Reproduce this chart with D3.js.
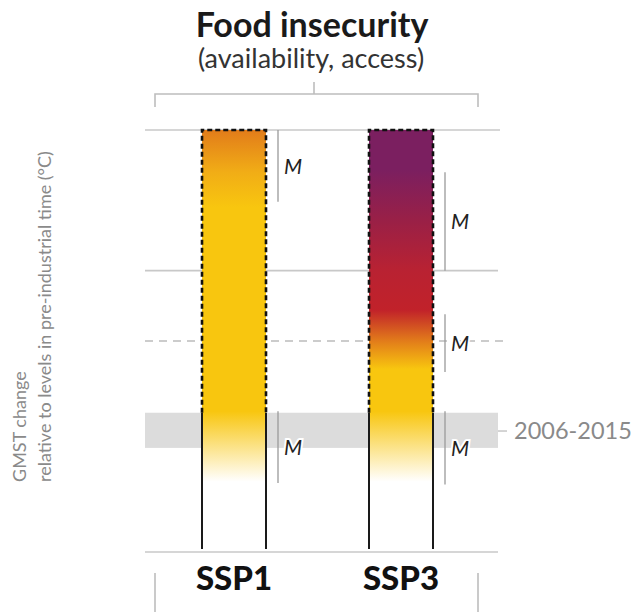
<!DOCTYPE html>
<html>
<head>
<meta charset="utf-8">
<script src="https://cdn.jsdelivr.net/npm/d3@7"></script>
<style>
  html, body { margin: 0; padding: 0; background: #fff; }
  svg { display: block; }
  text { font-family: Lato, "Open Sans", sans-serif; }
</style>
</head>
<body>
<svg id="chart" width="637" height="612"></svg>
<script>
// Scenarios and their burning-ember colour transitions (GMST, °C)
const scenarios = ["SSP1", "SSP3"];
const ssp1Temps  = [0.5, 1.0, 2.45, 2.7, 3.0];
const ssp1Colors = ["#ffffff", "#f8c60f", "#f8c60f", "#f1ad16", "#e27c1a"];
const ssp3Temps  = [0.5, 1.0, 1.3, 1.5, 1.72, 2.0, 2.35, 2.72, 3.0];
const ssp3Colors = ["#ffffff", "#f8c60f", "#f8c60f", "#e27c1a", "#c1222a", "#b92232", "#9a2046", "#7b1f60", "#7b1f60"];
// Confidence ranges of each transition (M = medium confidence)
const ssp1Conf = [[0.49, 1.0], [2.49, 3.0]];
const ssp3Conf = [[0.48, 1.0], [1.28, 1.69], [2.0, 2.7]];
const confLabels = ["M", "M", "M"];
// Reference levels
const solidLevels = [0, 2, 3];
const dashedLevel = 1.5;
const recentBand = [0.74, 0.99];
const recentLabel = "2006-2015";
const dashedFrom = 0.99; // ember outline becomes dashed above this level

const svg = d3.select("#chart");

const y = d3.scaleLinear().domain([0, 3]).range([552, 130]);
const x = d3.scalePoint().domain(scenarios).range([234, 401]);
const bw = 64;

const gridX0 = 145, gridX1 = 498;

// Recent-period band
svg.append("rect")
  .attr("x", gridX0).attr("width", gridX1 - gridX0)
  .attr("y", y(recentBand[1])).attr("height", y(recentBand[0]) - y(recentBand[1]))
  .attr("fill", "#dcdcdc");
svg.append("line")
  .attr("x1", gridX1).attr("x2", 507)
  .attr("y1", y(0.86)).attr("y2", y(0.86))
  .attr("stroke", "#b8b8b8").attr("stroke-width", 1.2);
svg.append("text")
  .attr("x", 514).attr("y", y(0.86) + 8)
  .attr("font-size", 23.5).attr("fill", "#8a8a8a")
  .text(recentLabel);

// Solid level lines
svg.selectAll("line.level").data(solidLevels).join("line")
  .attr("class", "level")
  .attr("x1", gridX0).attr("x2", d => d === 3 ? 500 : gridX1)
  .attr("y1", y).attr("y2", y)
  .attr("stroke", "#c8c8c8").attr("stroke-width", 1.6);

// 1.5 °C dashed level
svg.append("line")
  .attr("x1", gridX0).attr("x2", 506)
  .attr("y1", y(dashedLevel)).attr("y2", y(dashedLevel))
  .attr("stroke", "#9a9a9a").attr("stroke-width", 1.2)
  .attr("stroke-dasharray", "8,6");

// Ember gradients
const defs = svg.append("defs");
const emberTemps = [ssp1Temps, ssp3Temps];
const emberColors = [ssp1Colors, ssp3Colors];
scenarios.forEach((s, i) => {
  const g = defs.append("linearGradient")
    .attr("id", "ember-" + s)
    .attr("gradientUnits", "userSpaceOnUse")
    .attr("x1", 0).attr("x2", 0)
    .attr("y1", y(0)).attr("y2", y(3));
  emberTemps[i].forEach((t, j) => {
    g.append("stop").attr("offset", t / 3).attr("stop-color", emberColors[i][j]);
  });
});

// Embers
scenarios.forEach(s => {
  const x0 = x(s) - bw / 2, x1 = x(s) + bw / 2;
  svg.append("rect")
    .attr("x", x0).attr("width", bw)
    .attr("y", y(3)).attr("height", y(0) - y(3) - 3)
    .attr("fill", `url(#ember-${s})`);
  // solid sides below the recent period
  [x0, x1].forEach(xx => {
    svg.append("line")
      .attr("x1", xx).attr("x2", xx)
      .attr("y1", y(dashedFrom)).attr("y2", y(0) - 3)
      .attr("stroke", "#1a1a1a").attr("stroke-width", 2);
  });
  // dashed outline above
  svg.append("path")
    .attr("d", `M${x0},${y(dashedFrom)} L${x0},${y(3)} L${x1},${y(3)} L${x1},${y(dashedFrom)}`)
    .attr("fill", "none")
    .attr("stroke", "#111").attr("stroke-width", 2.6)
    .attr("stroke-dasharray", "5,3");
});

// Confidence brackets
const confSets = [ssp1Conf, ssp3Conf];
scenarios.forEach((s, i) => {
  const cx = x(s) + bw / 2 + 12;
  confSets[i].forEach((r, j) => {
    svg.append("line")
      .attr("x1", cx).attr("x2", cx)
      .attr("y1", y(r[1])).attr("y2", y(r[0]))
      .attr("stroke", "#9a9a9a").attr("stroke-width", 1.3);
    svg.append("text")
      .attr("x", cx + 6).attr("y", (y(r[0]) + y(r[1])) / 2 + 8)
      .attr("font-family", "'Liberation Sans', sans-serif")
      .attr("font-style", "italic")
      .attr("font-size", 21).attr("fill", "#222")
      .attr("stroke", "#fff").attr("stroke-width", 4).attr("paint-order", "stroke")
      .text(confLabels[j]);
  });
});

// Title and subtitle
svg.append("text")
  .attr("x", 312).attr("y", 37)
  .attr("text-anchor", "middle").attr("font-weight", 700)
  .attr("font-size", 34).attr("fill", "#1a1a1a")
  .text("Food insecurity");
svg.append("text")
  .attr("x", 311).attr("y", 68)
  .attr("text-anchor", "middle")
  .attr("font-size", 27).attr("fill", "#333")
  .text("(availability, access)");

// Top bracket
svg.append("path")
  .attr("d", "M155,107 L155,94 L478,94 L478,107 M314,94 L314,82")
  .attr("fill", "none").attr("stroke", "#bdbdbd").attr("stroke-width", 1.6);

// Bottom bracket
svg.append("path")
  .attr("d", "M155,573 L155,612 M478,573 L478,612")
  .attr("fill", "none").attr("stroke", "#bdbdbd").attr("stroke-width", 1.6);

// Scenario labels
svg.selectAll("text.ssp").data(scenarios).join("text")
  .attr("class", "ssp")
  .attr("x", d => x(d)).attr("y", 590)
  .attr("text-anchor", "middle").attr("font-weight", 900)
  .attr("font-size", 33).attr("fill", "#111")
  .text(d => d);

// Axis title
const yt = svg.append("text")
  .attr("transform", "translate(26,482) rotate(-90)")
  .attr("font-size", 18).attr("fill", "#8a8a8a");
yt.append("tspan").attr("x", 0).attr("y", 0).text("GMST change");
yt.append("tspan").attr("x", 0).attr("y", 25).text("relative to levels in pre-industrial time (°C)");
</script>
</body>
</html>
